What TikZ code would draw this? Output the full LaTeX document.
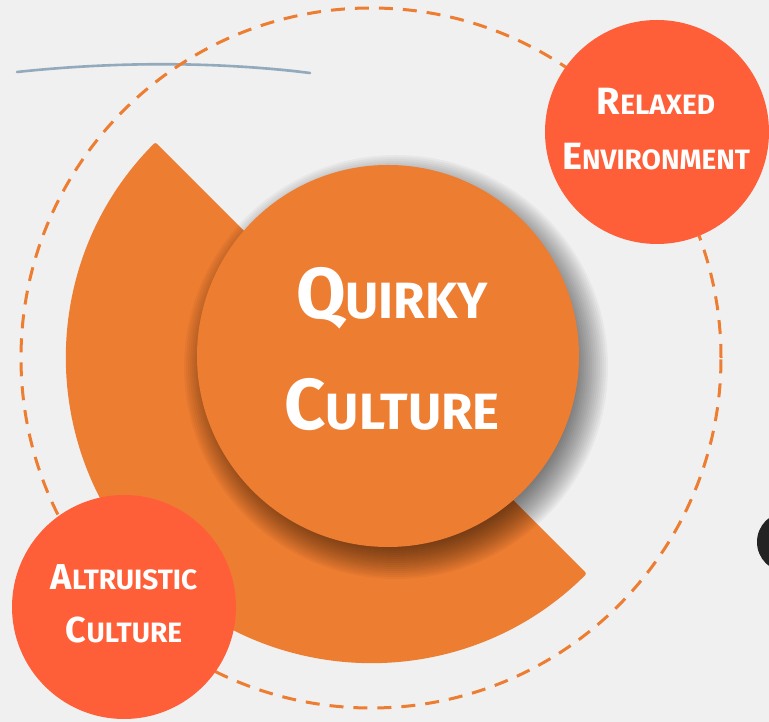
\documentclass[tikz,border=0pt]{standalone}
\usepackage{fontspec}
\newfontfamily\hand{Fira Sans}

\definecolor{paper}{HTML}{F0F0F0}
\definecolor{pumpkin}{HTML}{ED7D31}
\definecolor{coral}{HTML}{FF5F38}
\definecolor{pencil}{HTML}{93AABD}
\definecolor{ink}{HTML}{232323}

% hand-set small caps: #1 size of the initial, #2 size of the rest
\newcommand\capsword[4]{{\fontsize{#1}{#1}\selectfont #3}{\fontsize{#2}{#2}\selectfont #4}}

\tikzset{
  disc/.style={circle, inner sep=0pt, draw=none},
  bubble/.style={disc, fill=coral, minimum size=224pt},
  caption/.style={text=white, align=center, inner sep=0pt, font=\hand\bfseries},
}

\begin{document}
\begin{tikzpicture}[x=1pt, y=1pt]
  \useasboundingbox (0,0) rectangle (769,722);
  \fill[paper] (0,0) rectangle (769,722);

  % dark blob peeking in at the right edge
  \begin{scope}
    \clip (0,0) rectangle (769,722);
    \fill[ink] (787,180) circle[radius=30];
  \end{scope}

  % pencil stroke
  \draw[pencil, line width=2.6pt, line cap=round]
    (17,650) .. controls (120,661) and (220,660) .. (310,649);
  \draw[pencil, opacity=0.5, line width=1.2pt, line cap=round]
    (40,652) .. controls (130,660) and (230,659) .. (300,651);

  % dashed orbit
  \coordinate (hub) at (371,364);
  \draw[pumpkin, line width=3pt, dash pattern=on 14pt off 10pt] (hub) circle[radius=350];

  % half disc behind the core
  \fill[pumpkin, rounded corners=2pt]
    (hub) -- ++(135:305) arc[start angle=135, end angle=315, radius=305] -- cycle;

  % soft drop shadow of the core: stacked translucent discs
  \coordinate (shade) at (396,355);
  \foreach \r in {170,172,...,212}
    \fill[black, opacity=0.035] (shade) circle[radius=\r];

  % core circle
  \node[disc, fill=pumpkin, minimum size=382pt] (core) at (388,366) {};
  \node[caption, font=\hand\bfseries\fontsize{72pt}{111pt}\selectfont] (coretext) at (392,373)
    {\capsword{72pt}{51pt}{Q}{UIRKY}\\\capsword{72pt}{51pt}{C}{ULTURE}};

  % side bubbles
  \node[bubble] (relaxed) at (657,590) {};
  \node[caption, font=\hand\bfseries\fontsize{38pt}{55pt}\selectfont] (relaxedtext) at (656,593)
    {\capsword{38pt}{28pt}{R}{ELAXED}\\\capsword{38pt}{28pt}{E}{NVIRONMENT}};

  \node[bubble] (altruistic) at (124,115) {};
  \node[caption, font=\hand\bfseries\fontsize{36pt}{53pt}\selectfont] (altruistictext) at (124,118)
    {\capsword{36pt}{28pt}{A}{LTRUISTIC}\\\capsword{36pt}{28pt}{C}{ULTURE}};
\end{tikzpicture}
\end{document}
